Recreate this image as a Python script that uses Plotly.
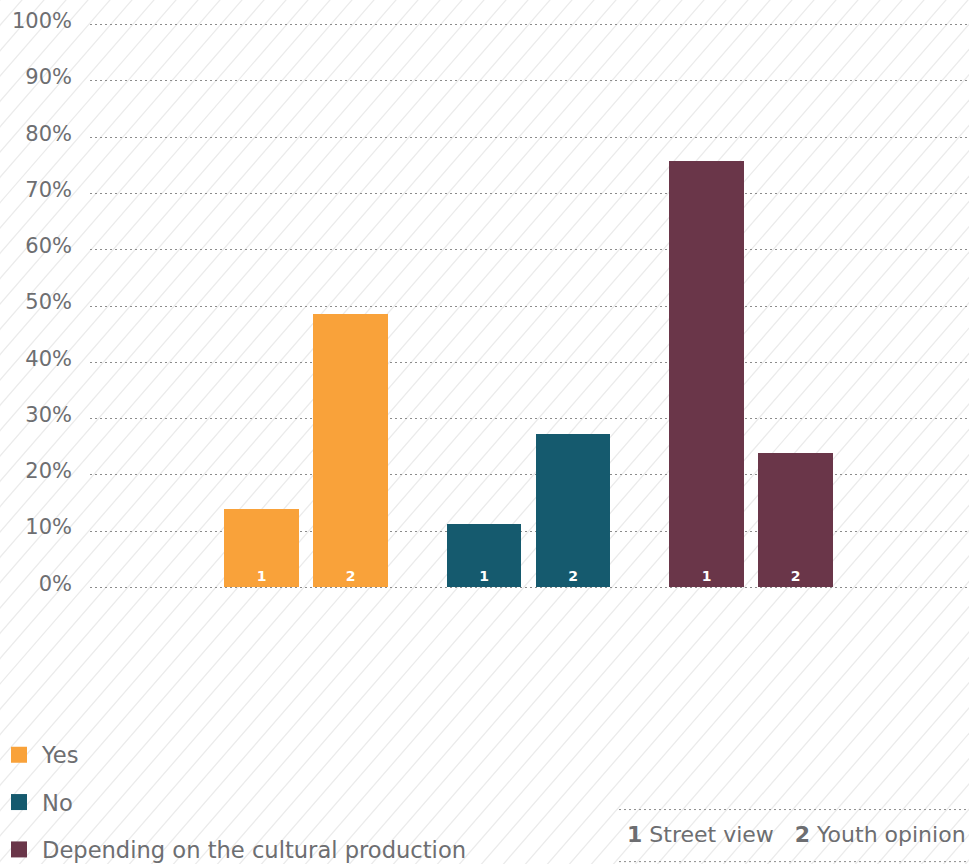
import base64
import plotly.graph_objects as go

# ---- data ----
answers = ["Yes", "No", "Depending on the cultural production"]
views = ["1", "2"]
view_names = ["Street view", "Youth opinion"]
yes_values = [14.0, 48.5]
no_values = [11.2, 27.3]
depending_values = [75.8, 23.9]
y_ticks = [0, 10, 20, 30, 40, 50, 60, 70, 80, 90, 100]
y_tick_labels = [f"{v}%" for v in y_ticks]

series_values = [yes_values, no_values, depending_values]
colors = ["#f9a23a", "#155a6e", "#6a3649"]

W, H = 969, 864
TXT = "#6d6e71"
FONT = "DejaVu Sans"

pad = 0.3
px_per_unit = 5.62
ML, MR = 90, 0
MT = 25 - pad * px_per_unit
MB = H - 587 - pad * px_per_unit

# ---- hatch background (decoration) ----
lines = []
step = 22
dx = H / 1.15
x0 = -int(dx) - step
while x0 < W + step:
    lines.append(f'<line x1="{x0:.1f}" y1="{H}" x2="{x0 + dx:.1f}" y2="0" />')
    x0 += step
svg = (f'<svg xmlns="http://www.w3.org/2000/svg" width="{W}" height="{H}" viewBox="0 0 {W} {H}">'
       f'<rect width="{W}" height="{H}" fill="white"/>'
       f'<g stroke="#ebebeb" stroke-width="1.3">' + "".join(lines) + '</g></svg>')
src = "data:image/svg+xml;base64," + base64.b64encode(svg.encode()).decode()

pw, ph = W - ML - MR, H - MT - MB

def py(pixel_y):
    return (MT + ph - pixel_y) / ph

fig = go.Figure()

offset = 0.2
bar_w = 0.337
for gi, (name, vals, col) in enumerate(zip(answers, series_values, colors)):
    xs = [gi + (si - 0.5) * 2 * offset for si in range(len(views))]
    fig.add_trace(go.Bar(
        x=xs, y=vals, width=bar_w, marker=dict(color=col, line=dict(width=0)),
        text=views, textposition="inside", insidetextanchor="start", textangle=0,
        textfont=dict(family=FONT, size=14, color="white", weight="bold"),
        showlegend=False, hoverinfo="y", name=name, cliponaxis=False,
    ))
    fig.add_trace(go.Scatter(
        x=[None], y=[None], mode="markers", name=name, legendgroup=name,
        marker=dict(symbol="square", size=16, color=col),
    ))

fig.update_layout(
    width=W, height=H,
    margin=dict(l=ML, r=MR, t=MT, b=MB, autoexpand=False),
    paper_bgcolor="white", plot_bgcolor="rgba(0,0,0,0)",
    bargap=0,
    font=dict(family=FONT, color=TXT),
    xaxis=dict(range=[-0.971, 2.98], visible=False, fixedrange=True),
    yaxis=dict(range=[-pad, 100 + pad], tickvals=y_ticks, ticktext=y_tick_labels,
               showgrid=True, gridcolor="#8c8c8c", griddash="2px,3px", gridwidth=1,
               zeroline=False, showline=False, ticks="", automargin=False,
               tickfont=dict(family=FONT, size=21, color=TXT),
               ticklabelstandoff=17, ticklabelshift=-4, fixedrange=True),
    legend=dict(x=-(ML + 4) / pw, xanchor="left", y=py(733), yanchor="top",
                font=dict(family=FONT, size=22.6, color=TXT),
                tracegroupgap=15, bgcolor="rgba(0,0,0,0)", itemwidth=36),
    images=[dict(source=src, xref="paper", yref="paper",
                 x=-ML / pw, y=1 + MT / ph, sizex=W / pw, sizey=H / ph,
                 xanchor="left", yanchor="top", sizing="stretch", layer="below")],
)

# key for "1" / "2"
key_text = "&nbsp;&nbsp;&nbsp;".join(f"<b>{v}</b> {n}" for v, n in zip(views, view_names))
fig.add_annotation(text=key_text, xref="paper", yref="paper",
                   x=1, y=py(834), xanchor="right", yanchor="middle",
                   xshift=-1, showarrow=False, font=dict(family=FONT, size=22, color=TXT))
for yy in (809, 861):
    fig.add_shape(type="line", xref="paper", yref="paper",
                  x0=(619 - ML) / pw, x1=1, y0=py(yy), y1=py(yy),
                  line=dict(color="#8c8c8c", width=1, dash="2px,3px"))

fig.write_html("out.html", config={"displayModeBar": False},
               post_script="document.body.style.margin='0';document.body.style.overflow='hidden';")
